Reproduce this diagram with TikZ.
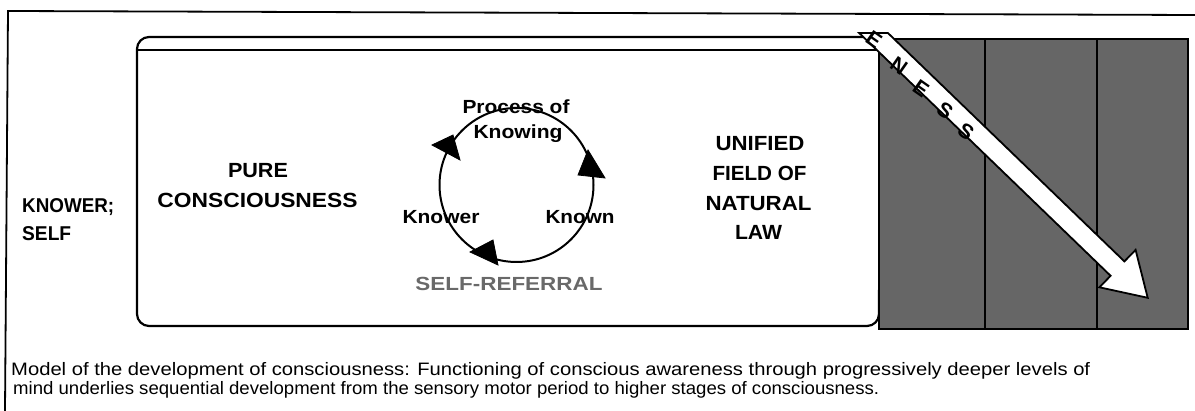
\documentclass[tikz,border=0pt]{standalone}
\usepackage{fontspec}
\setmainfont{Liberation Sans}
\usepackage{graphicx}
\newcommand{\fw}[2]{\resizebox{#1pt}{\height}{#2}}
\definecolor{panelgray}{RGB}{102,102,102}
\definecolor{refgray}{RGB}{105,105,105}
\begin{document}
\begin{tikzpicture}[x=1pt,y=-1pt,
  lab/.style={font=\bfseries\fontsize{20.5}{22}\selectfont, inner sep=0pt, anchor=base},
  lablw/.style={font=\bfseries\fontsize{20}{22}\selectfont, inner sep=0pt, anchor=base west},
  small/.style={font=\bfseries\fontsize{19}{21}\selectfont, inner sep=0pt, anchor=base},
  capt/.style={font=\fontsize{18}{20}\selectfont, inner sep=0pt, anchor=base west},
  letter/.style={font=\bfseries\fontsize{21}{23}\selectfont, inner sep=0pt, rotate=-35},
  frame/.style={line width=1.8pt},
  head/.style={fill=black, draw=black, line width=0.8pt, line join=miter}]
\useasboundingbox (0,0) rectangle (1195,411);

% outer frame
\draw[frame] (5,411) -- (8,11) -- (1195,15);

% inner rounded box
\draw[line width=2.2pt, rounded corners=12pt] (890,37) -- (137,37) -- (137,326) -- (879,326) -- (879,290);
\draw[line width=2pt] (137,50) -- (879,50);

% dark panel
\draw[fill=panelgray, line width=2.5pt] (879,39) rectangle (1188,329);
\draw[line width=2.8pt] (985,39) -- (985,329);
\draw[line width=2.8pt] (1097,39) -- (1097,329);

% white arrow
\draw[fill=white, line width=1.8pt, line join=miter]
  (859.2,33) -- (887.9,33) -- (1124.4,261.4) -- (1135.6,249.9) -- (1147.7,297.8)
  -- (1099.4,287.3) -- (1110.6,275.8) -- cycle;
\node[letter] (l1) at (874,40) {E};
\node[letter] (l2) at (899,66) {N};
\node[letter] (l3) at (921,89) {E};
\node[letter] (l4) at (945,111) {S};
\node[letter] (l5) at (966,132) {S};

% left labels
\node[lablw] (knower1) at (22,213) {\fw{92}{KNOWER;}};
\node[lablw] (self1) at (22,240.5) {\fw{49}{SELF}};
\node[lab] (pure) at (258,178) {\fw{60}{PURE}};
\node[lab] (consc) at (257.5,208) {\fw{200}{CONSCIOUSNESS}};

% right labels
\node[lab] (unified) at (760,151) {\fw{89}{UNIFIED}};
\node[lab] (fieldof) at (759.5,181) {\fw{94}{FIELD OF}};
\node[lab] (natural) at (758.5,211) {\fw{106}{NATURAL}};
\node[lab] (law) at (758.5,240) {\fw{47}{LAW}};

% cycle
\node[circle, draw, line width=2pt, minimum size=154pt, inner sep=0pt] (cyc) at (516.5,185) {};
\draw[head] (432,145) -- (453,135) -- (460,160) -- cycle;
\draw[head] (588,150) -- (578,175) -- (605,178) -- cycle;
\draw[head] (470,252) -- (493,240) -- (498,265) -- cycle;

\node[small] (proc) at (516,113.5) {\fw{107}{Process of}};
\node[small] (knowing) at (518,138.5) {\fw{89}{Knowing}};
\node[small] (knower) at (441,223.5) {\fw{77}{Knower}};
\node[small] (known) at (580,223.5) {\fw{69}{Known}};
\node[small, text=refgray] (selfref) at (509,291) {\fw{187}{SELF-REFERRAL}};

% caption
\node[capt] (cap1) at (11,375.5) {\fw{1079}{Model of the development of consciousness: Functioning of conscious awareness through progressively deeper levels of}};
\node[capt] (cap2) at (13,394.5) {\fw{866}{mind underlies sequential development from the sensory motor period to higher stages of consciousness.}};
\end{tikzpicture}
\end{document}
